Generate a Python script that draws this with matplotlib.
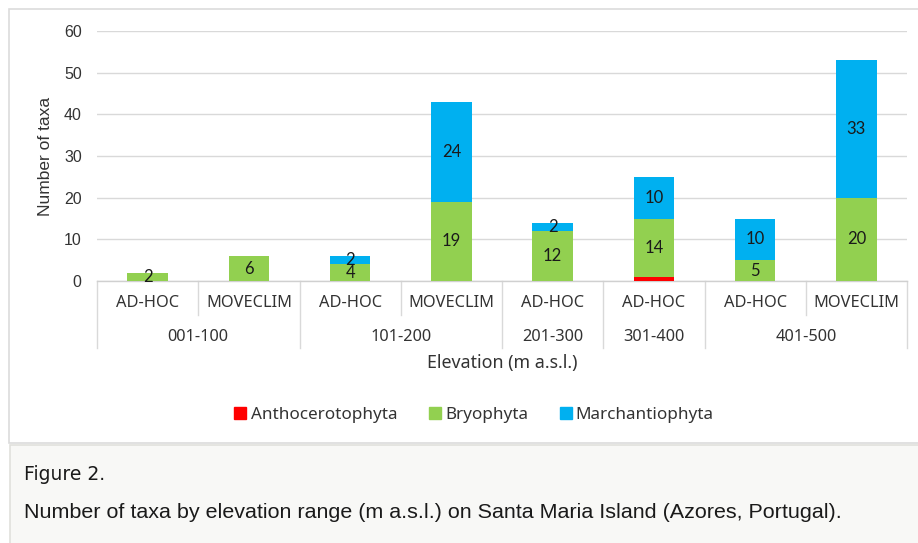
import matplotlib
matplotlib.use("Agg")
import matplotlib.pyplot as plt
from matplotlib.patches import Rectangle
from matplotlib.lines import Line2D

# ---- data ----
methods = ["AD-HOC", "MOVECLIM", "AD-HOC", "MOVECLIM", "AD-HOC", "AD-HOC", "AD-HOC", "MOVECLIM"]
groups = ["001-100", "101-200", "201-300", "301-400", "401-500"]
group_sizes = [2, 2, 1, 1, 2]
anthocerotophyta = [0, 0, 0, 0, 0, 1, 0, 0]
bryophyta = [2, 6, 4, 19, 12, 14, 5, 20]
marchantiophyta = [0, 0, 2, 24, 2, 10, 10, 33]
series_names = ["Anthocerotophyta", "Bryophyta", "Marchantiophyta"]
colors = ["#FF0000", "#92D050", "#00B0F0"]
y_ticks = [0, 10, 20, 30, 40, 50, 60]

W, H = 918, 543
fig = plt.figure(figsize=(W / 100, H / 100), dpi=100)
fig.patch.set_facecolor("white")

# chart frame
fig.patches.append(Rectangle((9 / W, 1 - 443 / H), 1.0, (443 - 9) / H, transform=fig.transFigure,
                             facecolor="white", edgecolor="#dcdcdc", lw=1.2, zorder=-5))
# caption box
fig.patches.append(Rectangle((9.5 / W, -0.01), 1.0, (H - 445) / H + 0.01, transform=fig.transFigure,
                             facecolor="#f8f8f6", edgecolor="#e0e0dc", lw=1.2, zorder=-5))

ax = fig.add_axes([97 / W, 1 - 281 / H, (907 - 97) / W, 250 / H])
ax.set_facecolor("none")
x = list(range(len(methods)))
bw = 0.4
ax.bar(x, anthocerotophyta, bw, color=colors[0], zorder=3)
ax.bar(x, bryophyta, bw, bottom=anthocerotophyta, color=colors[1], zorder=3)
bottom3 = [a + b for a, b in zip(anthocerotophyta, bryophyta)]
ax.bar(x, marchantiophyta, bw, bottom=bottom3, color=colors[2], zorder=3)

lab_font = dict(family=["Lato", "DejaVu Sans"], fontsize=12, color="#1a1a1a")
for xi, v, b0 in zip(x, bryophyta, anthocerotophyta):
    if v:
        ax.text(xi, b0 + v / 2, str(v), ha="center", va="center", zorder=4, **lab_font)
for xi, v, b0 in zip(x, marchantiophyta, bottom3):
    if v:
        ax.text(xi, b0 + v / 2, str(v), ha="center", va="center", zorder=4, **lab_font)

ax.set_xlim(-0.5, len(methods) - 0.5)
ax.set_ylim(0, 60)
ax.set_yticks(y_ticks)
ax.set_yticklabels([str(t) for t in y_ticks], family=["Liberation Sans"], fontsize=11.5, color="#333333")
ax.tick_params(axis="y", length=0, pad=11)
ax.set_xticks([])
ax.grid(axis="y", color="#d9d9d9", lw=1, zorder=0)
for s in ["top", "right", "left"]:
    ax.spines[s].set_visible(False)
ax.spines["bottom"].set_color("#d0d0d0")
ax.spines["bottom"].set_linewidth(1)

ax.set_ylabel("Number of taxa", family=["Liberation Sans"], fontsize=12.5, color="#333333")
ax.yaxis.set_label_coords(-44 / 810, 0.5)

# multi-level category axis
trans = ax.get_xaxis_transform()
cat_font = dict(family=["Noto Sans", "DejaVu Sans"], fontsize=11.8, color="#333333")
short_d, long_d = -34 / 250, -67 / 250
for xi, m in zip(x, methods):
    ax.text(xi, -22 / 250, m, ha="center", va="center", transform=trans, **cat_font)
start = 0
bounds = [-0.5]
for g, n in zip(groups, group_sizes):
    center = start + (n - 1) / 2
    ax.text(center, -56 / 250, g, ha="center", va="center", transform=trans, **cat_font)
    for k in range(1, n):
        xs = start + k - 0.5
        ax.add_line(Line2D([xs, xs], [0, short_d], transform=trans, color="#d9d9d9", lw=1, clip_on=False))
    start += n
    bounds.append(start - 0.5)
for xs in bounds:
    ax.add_line(Line2D([xs, xs], [0, long_d], transform=trans, color="#d9d9d9", lw=1, clip_on=False))

ax.text(3.5, -82 / 250, "Elevation (m a.s.l.)", ha="center", va="center", transform=trans,
        family=["Noto Sans", "DejaVu Sans"], fontsize=12.8, color="#333333")

handles = [Line2D([], [], marker="s", ls="", color=c, markersize=8) for c in colors]
leg = fig.legend(handles, series_names, loc="center", bbox_to_anchor=(472 / W, 1 - 415 / H),
                 ncol=3, frameon=False, handletextpad=0.0, columnspacing=1.6, handlelength=1.2,
                 prop=dict(family=["Noto Sans", "DejaVu Sans"], size=12.3))
for t in leg.get_texts():
    t.set_color("#333333")

fig.text(24 / W, 1 - 475 / H, "Figure 2.", ha="left", va="center",
         family=["DejaVu Sans"], fontsize=13.5, color="#1a1a1a")
fig.text(24 / W, 1 - 513 / H,
         "Number of taxa by elevation range (m a.s.l.) on Santa Maria Island (Azores, Portugal).",
         ha="left", va="center", family=["Liberation Sans"], fontsize=15.45, color="#1a1a1a")

fig.savefig("out.png", dpi=100)
